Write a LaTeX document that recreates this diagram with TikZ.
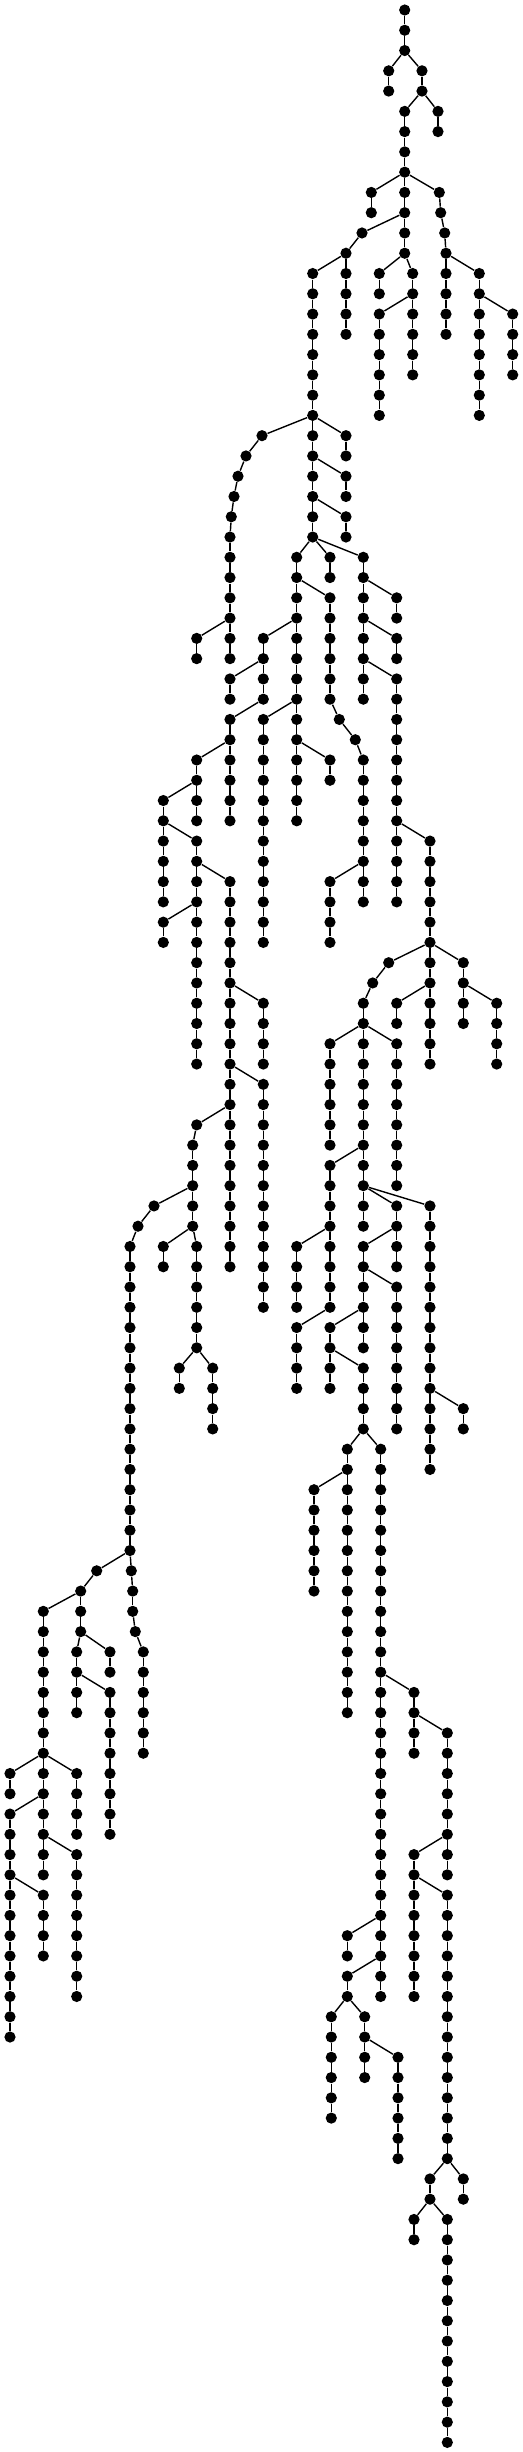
\documentclass[tikz,border=0pt]{standalone}
\usepackage{tikz}
\tikzset{vtx/.style={circle,fill=black,draw=none,inner sep=0pt,minimum size=5.6pt}}
\tikzset{edge/.style={draw=black,line width=.7pt}}
% vertical run of vertices: name, x, first level, last level
\newcommand{\vchain}[4]{\foreach \lv [remember=\lv as \prv (initially #3)] in {#3,...,#4}{
	\node[vtx] (#1-\lv) at (#2,{10+20.27*\lv}) {};
	\ifnum\lv>#3 \draw[edge] (#1-\prv)--(#1-\lv); \fi}}
% same, hung below a parent vertex
\newcommand{\vbranch}[5]{\vchain{#2}{#3}{#4}{#5}\draw[edge] (#1)--(#2-#4);}
\begin{document}
\begin{tikzpicture}[x=.5pt,y=-.5pt]
	\useasboundingbox (0,0) rectangle (523,2452);
	% top
	\vchain{r}{404.7}{0}{2}
	\vbranch{r-2}{a}{388.7}{3}{4}
	\vbranch{r-2}{b}{422}{3}{4}
	\vbranch{b-4}{c}{404.7}{5}{12}
	\vbranch{b-4}{d}{438}{5}{6}
	\vbranch{c-8}{e}{371.3}{9}{10}
	\vbranch{c-8}{fa}{439.3}{9}{9}
	\vbranch{fa-9}{fb}{440.7}{10}{10}
	\vbranch{fb-10}{fc}{444.7}{11}{11}
	\vbranch{fc-11}{fd}{446}{12}{16}
	\vbranch{fd-12}{g}{479.3}{13}{20}
	\vbranch{g-14}{h}{512.7}{15}{18}
	\vbranch{c-12}{ca}{379.3}{13}{14}
	\vbranch{c-12}{cb}{412.7}{13}{18}
	\vbranch{cb-14}{cc}{379.3}{15}{20}
	\vbranch{c-10}{i}{362}{11}{11}
	\vbranch{i-11}{j}{346}{12}{16}
	\vbranch{j-12}{k}{312.7}{13}{26}
	\vbranch{k-20}{ma}{346}{21}{22}
	\vbranch{k-22}{mb}{346}{23}{24}
	\vbranch{k-24}{mc}{346}{25}{26}
	% left arc
	\vbranch{k-20}{na}{262}{21}{21}
	\vbranch{na-21}{nb}{246}{22}{22}
	\vbranch{nb-22}{nc}{238}{23}{23}
	\vbranch{nc-23}{nd}{234}{24}{24}
	\vbranch{nd-24}{ne}{231.3}{25}{25}
	\vbranch{ne-25}{nf}{230}{26}{32}
	\vbranch{nf-30}{p}{196.7}{31}{32}
	% below k
	\vbranch{k-26}{q}{296.7}{27}{40}
	\vbranch{k-26}{qa}{330}{27}{28}
	\vbranch{q-28}{sa}{330}{29}{34}
	\vbranch{sa-34}{sb}{339.3}{35}{35}
	\vbranch{sb-35}{sc}{355.3}{36}{36}
	\vbranch{sc-36}{sd}{363.3}{37}{44}
	\vbranch{sd-42}{u}{330}{43}{46}
	\vbranch{q-36}{qb}{330}{37}{38}
	\vbranch{q-30}{v}{263.3}{31}{34}
	\vbranch{v-32}{va}{230}{33}{34}
	\vbranch{v-34}{w}{230}{35}{40}
	\vbranch{q-34}{qc}{263.3}{35}{46}
	\vbranch{w-36}{x}{196.7}{37}{40}
	\vbranch{x-38}{y}{163.3}{39}{44}
	\vbranch{y-40}{z}{196.7}{41}{52}
	\vbranch{z-44}{za}{163.3}{45}{46}
	\vbranch{z-42}{ab}{230}{43}{62}
	\vbranch{ab-48}{ac}{263.3}{49}{52}
	\vbranch{ab-52}{ad}{263.3}{53}{64}
	\vbranch{ab-54}{aea}{196.7}{55}{55}
	\vbranch{aea-55}{aeb}{192.7}{56}{60}
	\vbranch{aeb-60}{af}{163.3}{61}{62}
	\vbranch{aeb-60}{ag}{196.7}{61}{66}
	\vbranch{ag-66}{ah}{179.3}{67}{68}
	\vbranch{ag-66}{ai}{212.7}{67}{70}
	\vbranch{aeb-58}{aja}{154}{59}{59}
	\vbranch{aja-59}{ajb}{138}{60}{60}
	\vbranch{ajb-60}{ajc}{130}{61}{76}
	% lower left
	\vbranch{ajc-76}{aka}{131.3}{77}{77}
	\vbranch{aka-77}{akb}{132.7}{78}{79}
	\vbranch{akb-79}{akc}{135.3}{80}{80}
	\vbranch{akc-80}{akd}{143.3}{81}{86}
	\vbranch{ajc-76}{ala}{96.7}{77}{77}
	\vbranch{ala-77}{alb}{80.7}{78}{80}
	\vbranch{alb-78}{am}{43.3}{79}{92}
	\vbranch{am-86}{an}{10}{87}{88}
	\vbranch{am-88}{ao}{10}{89}{100}
	\vbranch{am-86}{ap}{76.7}{87}{90}
	\vbranch{am-90}{aq}{76.7}{91}{98}
	\vbranch{ao-92}{ar}{43.3}{93}{96}
	\vbranch{alb-80}{as}{76.7}{81}{84}
	\vbranch{alb-80}{at}{110}{81}{82}
	\vbranch{as-82}{au}{110}{83}{90}
	% right side
	\vbranch{k-26}{bb}{363.3}{27}{34}
	\vbranch{bb-28}{bc}{396.7}{29}{30}
	\vbranch{bb-30}{bd}{396.7}{31}{32}
	\vbranch{bb-32}{be}{396.7}{33}{44}
	\vbranch{be-40}{bf}{430}{41}{52}
	\vbranch{bf-46}{bg}{463.3}{47}{50}
	\vbranch{bg-48}{bh}{496.7}{49}{52}
	\vbranch{bf-46}{bi}{388.7}{47}{47}
	\vbranch{bi-47}{bj}{372.7}{48}{48}
	\vbranch{bj-48}{bk}{363.3}{49}{50}
	\vbranch{bf-48}{bl}{396.7}{49}{50}
	\vbranch{bk-50}{bm}{330}{51}{56}
	\vbranch{bk-50}{bn}{363.3}{51}{60}
	\vbranch{bk-50}{bo}{396.7}{51}{58}
	\vbranch{bn-56}{bp}{330}{57}{64}
	\vbranch{bp-60}{bq}{296.7}{61}{64}
	\vbranch{bp-64}{br}{296.7}{65}{68}
	\vbranch{bn-58}{bs}{396.7}{59}{62}
	\vbranch{bs-60}{bt}{363.3}{61}{66}
	\vbranch{bt-62}{bu}{396.7}{63}{70}
	\vbranch{bt-64}{bv}{330}{65}{68}
	\vbranch{bv-66}{bw}{363.3}{67}{70}
	\vbranch{bn-58}{bx}{430}{59}{72}
	\vbranch{bx-68}{by}{463.3}{69}{70}
	% lower right
	\vbranch{bw-70}{bz}{347.3}{71}{84}
	\vbranch{bz-72}{da}{314}{73}{78}
	\vbranch{bw-70}{db}{380.7}{71}{98}
	\vbranch{db-82}{dc}{414}{83}{86}
	\vbranch{dc-84}{dd}{447.3}{85}{92}
	\vbranch{dd-90}{de}{414}{91}{98}
	\vbranch{de-92}{df}{447.3}{93}{106}
	\vbranch{db-94}{dg}{347.3}{95}{96}
	\vbranch{db-96}{dh}{347.3}{97}{98}
	\vbranch{dh-98}{di}{331.3}{99}{104}
	\vbranch{dh-98}{dj}{364.7}{99}{102}
	\vbranch{dj-100}{dk}{398}{101}{106}
	\vbranch{df-106}{dl}{430}{107}{108}
	\vbranch{df-106}{dm}{463.3}{107}{108}
	\vbranch{dl-108}{dn}{414}{109}{110}
	\vbranch{dl-108}{do}{447.3}{109}{120}
\end{tikzpicture}
\end{document}
